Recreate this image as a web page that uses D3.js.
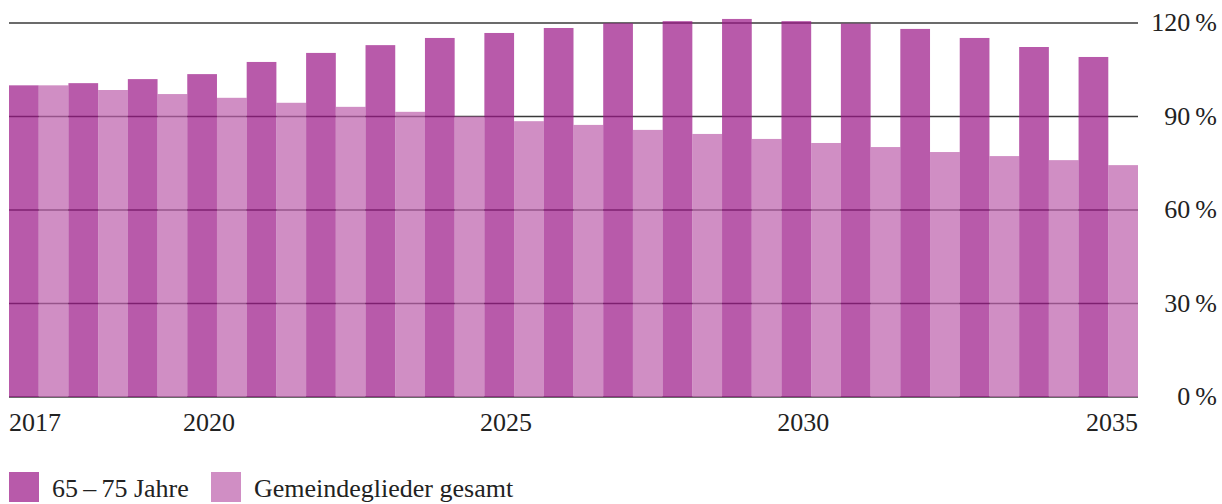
<!DOCTYPE html>
<html lang="de">
<head>
<meta charset="utf-8">
<script src="https://cdn.jsdelivr.net/npm/d3@7"></script>
<style>
  body { margin: 0; background: #fff; }
  svg text { font-family: "Liberation Serif", "DejaVu Serif", serif; fill: #222; }
</style>
</head>
<body>
<svg id="chart" width="1222" height="504"></svg>
<script>
// data
var years = d3.range(2017, 2036);
var seniors = [100, 100.7, 102, 103.6, 107.5, 110.4, 112.9, 115.2, 116.8, 118.4,
               119.9, 120.6, 121.3, 120.6, 119.8, 118.1, 115.2, 112.3, 109.1];
var members = [100, 98.5, 97.2, 96, 94.4, 93.1, 91.5, 90, 88.5, 87.3,
               85.7, 84.4, 82.8, 81.5, 80.2, 78.6, 77.3, 76, 74.4];
var seriesNames = ["65\u2009\u2013\u200975 Jahre", "Gemeindeglieder gesamt"];
var yTicks = [0, 30, 60, 90, 120];
var xLabels = [2017, 2020, 2025, 2030, 2035];

// bars are see-through so the grid shows darker through them
var colors = ["#9b1787", "#bd60ac"];
var barOpacity = 0.71;

var svg = d3.select("#chart");
// note: "top" is taken by window.top, so plot edges get their own names
var plotL = 9, plotR = 1138, plotT = 23, plotB = 397;

var x0 = d3.scaleBand().domain(years).range([plotL, plotR]).paddingInner(0).paddingOuter(0);
var x1 = d3.scaleBand().domain([0, 1]).range([0, x0.bandwidth()]);
var y = d3.scaleLinear().domain([0, 120]).range([plotB, plotT]);

// grid lines first, bars on top
svg.append("g").selectAll("line")
  .data(yTicks)
  .enter().append("line")
    .attr("x1", plotL).attr("x2", plotR)
    .attr("y1", function(d) { return y(d); })
    .attr("y2", function(d) { return y(d); })
    .attr("stroke", "#3a3a3a")
    .attr("stroke-width", 1.6);

var rows = years.map(function(yr, i) { return { year: yr, vals: [seniors[i], members[i]] }; });

var group = svg.append("g").selectAll("g")
  .data(rows)
  .enter().append("g")
    .attr("transform", function(d) { return "translate(" + x0(d.year) + ",0)"; });

group.selectAll("rect")
  .data(function(d) { return d.vals; })
  .enter().append("rect")
    .attr("x", function(d, i) { return x1(i); })
    .attr("y", function(d) { return y(d); })
    .attr("width", x1.bandwidth())
    .attr("height", function(d) { return plotB - y(d); })
    .attr("fill", function(d, i) { return colors[i]; })
    .attr("fill-opacity", barOpacity);

// y labels on the right
svg.append("g").selectAll("text")
  .data(yTicks)
  .enter().append("text")
    .attr("x", 1217)
    .attr("y", function(d) { return y(d) + 8; })
    .attr("text-anchor", "end")
    .style("font-size", "26px")
    .text(function(d) { return d + "\u2009%"; });

// year labels
svg.append("g").selectAll("text")
  .data(xLabels)
  .enter().append("text")
    .attr("x", function(d, i) {
      if (i === 0) return x0(d);
      if (i === xLabels.length - 1) return x0(d) + x0.bandwidth();
      return x0(d) + x0.bandwidth() / 2 - 8;
    })
    .attr("y", 431)
    .attr("text-anchor", function(d, i) {
      if (i === 0) return "start";
      if (i === xLabels.length - 1) return "end";
      return "middle";
    })
    .style("font-size", "26px")
    .text(function(d) { return d; });

// legend
var legend = svg.append("g");
var legendX = [9, 211];
seriesNames.forEach(function(name, i) {
  legend.append("rect")
    .attr("x", legendX[i]).attr("y", 472)
    .attr("width", 30).attr("height", 30)
    .attr("fill", colors[i]).attr("fill-opacity", barOpacity);
  legend.append("text")
    .attr("x", legendX[i] + 43).attr("y", 497)
    .style("font-size", "26px")
    .text(name);
});
</script>
</body>
</html>
